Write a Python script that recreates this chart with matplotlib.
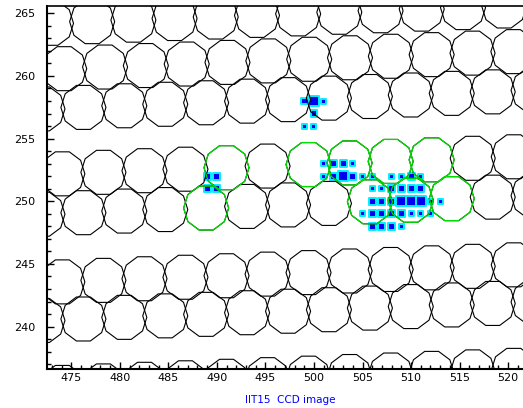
import numpy as np
import matplotlib
matplotlib.use("Agg")
import matplotlib.pyplot as plt
from matplotlib.collections import PolyCollection
from matplotlib.ticker import MultipleLocator

# ---- fibre footprints: centre of each fibre, row by row (top to bottom) ----
row1_x = [472.91, 477.15, 481.40, 485.64, 489.88, 494.13, 498.37, 502.61, 506.86, 511.10, 515.35, 519.59]
row1_y = [264.20, 264.33, 264.45, 264.58, 264.70, 264.83, 264.95, 265.08, 265.20, 265.33, 265.45, 265.58]

row2_x = [474.27, 478.48, 482.68, 486.89, 491.09, 495.30, 499.51, 503.71, 507.92, 512.12, 516.33, 520.54]
row2_y = [260.58, 260.71, 260.83, 260.95, 261.08, 261.20, 261.33, 261.45, 261.57, 261.70, 261.82, 261.94]

row3_x = [472.03, 476.25, 480.46, 484.68, 488.89, 493.11, 497.33, 501.54, 505.76, 509.97, 514.19, 518.41, 522.62]
row3_y = [257.37, 257.49, 257.62, 257.74, 257.86, 257.99, 258.11, 258.23, 258.36, 258.48, 258.61, 258.73, 258.85]

row4_x = [474.08, 478.31, 482.54, 486.76, 490.99, 495.22, 499.44, 503.67, 507.90, 512.12, 516.35, 520.58]
row4_y = [252.19, 252.31, 252.44, 252.56, 252.68, 252.81, 252.93, 253.06, 253.18, 253.31, 253.43, 253.55]

row5_x = [472.03, 476.25, 480.46, 484.68, 488.89, 493.11, 497.33, 501.54, 505.76, 509.97, 514.19, 518.41, 522.62]
row5_y = [248.97, 249.09, 249.22, 249.34, 249.46, 249.59, 249.71, 249.83, 249.96, 250.08, 250.21, 250.33, 250.45]

row6_x = [474.08, 478.31, 482.54, 486.76, 490.99, 495.22, 499.44, 503.67, 507.90, 512.12, 516.35, 520.58]
row6_y = [243.57, 243.69, 243.82, 243.94, 244.06, 244.19, 244.31, 244.44, 244.56, 244.69, 244.81, 244.93]

row7_x = [472.03, 476.25, 480.46, 484.68, 488.89, 493.11, 497.33, 501.54, 505.76, 509.97, 514.19, 518.41, 522.62]
row7_y = [240.49, 240.61, 240.74, 240.86, 240.98, 241.11, 241.23, 241.35, 241.48, 241.60, 241.73, 241.85, 241.97]

row8_x = [474.08, 478.31, 482.54, 486.76, 490.99, 495.22, 499.44, 503.67, 507.90, 512.12, 516.35, 520.58]
row8_y = [235.15, 235.27, 235.40, 235.52, 235.64, 235.77, 235.89, 236.02, 236.14, 236.27, 236.39, 236.51]

# fibres that receive light (drawn in green)
lit_x = [490.99, 499.44, 503.67, 507.90, 512.12, 488.89, 505.76, 509.97, 514.19]
lit_y = [252.68, 252.93, 253.06, 253.18, 253.31, 249.46, 249.96, 250.08, 250.21]

# ---- CCD pixels above threshold: column, row, signal level (1 low .. 3 high) ----
pix_x = [499, 500, 501, 500, 499, 500,
         489, 490, 489, 490,
         501, 502, 503, 504,
         501, 502, 503, 504, 505, 506, 508, 509, 510, 511,
         506, 507, 508, 509, 510, 511,
         506, 507, 508, 509, 510, 511, 512, 513,
         505, 506, 507, 508, 509, 510, 511, 512,
         506, 507, 508, 509]
pix_y = [258, 258, 258, 257, 256, 256,
         252, 252, 251, 251,
         253, 253, 253, 253,
         252, 252, 252, 252, 252, 252, 252, 252, 252, 252,
         251, 251, 251, 251, 251, 251,
         250, 250, 250, 250, 250, 250, 250, 250,
         249, 249, 249, 249, 249, 249, 249, 249,
         248, 248, 248, 248]
pix_level = [2, 3, 1, 2, 1, 1,
             2, 2, 2, 2,
             1, 2, 2, 1,
             1, 2, 3, 2, 1, 1, 1, 1, 2, 1,
             1, 1, 2, 2, 2, 2,
             2, 2, 2, 3, 3, 3, 1, 1,
             1, 2, 2, 2, 2, 1, 1, 1,
             2, 2, 2, 1]

x_ticks = [475, 480, 485, 490, 495, 500, 505, 510, 515, 520]
y_ticks = [240, 245, 250, 255, 260, 265]
caption = "IIT15  CCD image"

# fibre footprint: decagon with half-widths in data units
RX, RY = 2.32, 1.845
ANG = np.deg2rad(np.arange(10) * 36.0)


def decagons(xs, ys):
    return [np.column_stack([cx + RX * np.cos(ANG), cy + RY * np.sin(ANG)])
            for cx, cy in zip(xs, ys)]


fig = plt.figure(figsize=(5.23, 4.08), dpi=100)
W, H = 523.0, 408.0
x0_px, x1_px = 47.3, 523.0
ytop_px, ybot_px = 6.0, 369.0
ax = fig.add_axes([x0_px / W, 1 - ybot_px / H, (x1_px - x0_px) / W, (ybot_px - ytop_px) / H])
ax.set_xlim(472.53, 521.53)
ax.set_ylim(236.62, 265.58)

# CCD pixels
side_pt = {1: 3.6, 2: 5.0, 3: 7.0}
sizes = [side_pt[v] ** 2 for v in pix_level]
ax.scatter(pix_x, pix_y, s=sizes, marker="s", facecolor="#0000f0",
           edgecolor="#00f0ff", linewidths=1.4, zorder=2)

# fibre outlines
all_x = row1_x + row2_x + row3_x + row4_x + row5_x + row6_x + row7_x + row8_x
all_y = row1_y + row2_y + row3_y + row4_y + row5_y + row6_y + row7_y + row8_y
ax.add_collection(PolyCollection(decagons(all_x, all_y), facecolors="none",
                                 edgecolors="black", linewidths=0.8, zorder=3))
ax.add_collection(PolyCollection(decagons(lit_x, lit_y), facecolors="none",
                                 edgecolors="#00e000", linewidths=0.9, zorder=4))

# axes styling
for side in ("left", "bottom"):
    ax.spines[side].set_linewidth(1.5)
ax.spines["top"].set_linewidth(1.2)
ax.spines["right"].set_visible(False)
ax.set_xticks(x_ticks)
ax.set_yticks(y_ticks)
ax.xaxis.set_minor_locator(MultipleLocator(1))
ax.yaxis.set_minor_locator(MultipleLocator(1))
ax.tick_params(which="both", direction="in", top=False, right=False, width=1.0, color="black")
ax.tick_params(which="major", length=5.3)
ax.tick_params(which="minor", length=3.2)
ax.tick_params(axis="x", which="major", pad=3.2, labelsize=8)
ax.tick_params(axis="y", which="major", pad=8.8, labelsize=8)

fig.text(290 / W, 1 - 400 / H, caption, color="#0000ff", fontsize=7.5,
         ha="center", va="center")

fig.savefig("out.png", dpi=100)
